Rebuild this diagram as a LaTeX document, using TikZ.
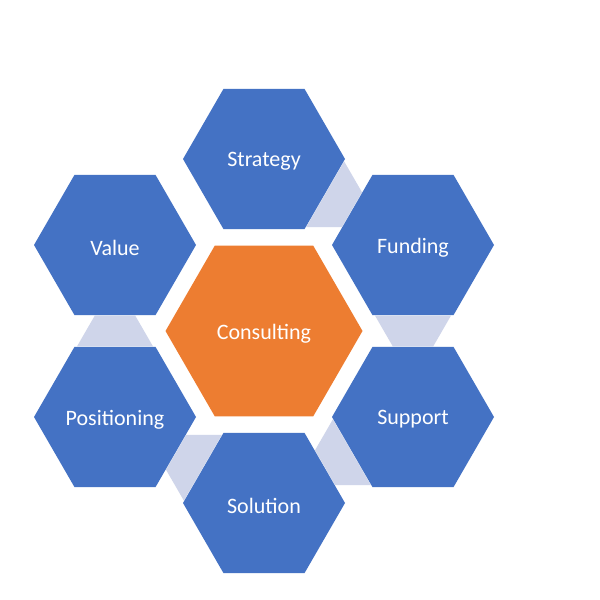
\documentclass[tikz,border=0pt]{standalone}
\usepackage{fontspec}
\setmainfont{Carlito}
\usetikzlibrary{shapes.geometric,calc}
\definecolor{hexblue}{HTML}{4472C4}
\definecolor{hexorange}{HTML}{ED7D31}
\definecolor{lav}{HTML}{CFD5EA}
\newcommand{\hexlabel}[1]{\raisebox{-2.5pt}[\height][\depth]{#1}}
\tikzset{
  hexbase/.style={regular polygon, regular polygon sides=6, inner sep=0pt, outer sep=0pt,
    text=white, font=\fontsize{22}{26}\selectfont},
  outerhex/.style={hexbase, fill=hexblue, minimum size=162pt},
  centerhex/.style={hexbase, fill=hexorange, minimum size=197pt},
  linkshape/.style={fill=lav}
}
\begin{document}
\begin{tikzpicture}[x=1pt,y=1pt]
\useasboundingbox[fill=white] (0,0) rectangle (600,600);
% connectors first (behind)
\coordinate (cS) at (264,441);
\coordinate (cF) at (413,355);
\coordinate (cP) at (413,183);
\coordinate (cL) at (264,97);
\coordinate (cO) at (115,183);
\coordinate (cV) at (115,355);
\foreach \a/\b/\d in {cS/cF/-30, cF/cP/-90, cP/cL/-150, cL/cO/150, cO/cV/90}{
  \path[linkshape]
    ($(\a)+(\d:70.6pt)+(\d+90:38pt)$) --
    ($(\a)+(\d:70.6pt)+(\d-90:38pt)$) --
    ($(\b)+(\d+180:70.6pt)+(\d-90:20.2pt)$) --
    ($(\b)+(\d+180:70.6pt)+(\d+90:20.2pt)$) -- cycle;
}
\node[centerhex] (consulting) at (264,269) {\hexlabel{Consulting}};
\node[outerhex] (strategy) at (cS) {\hexlabel{Strategy}};
\node[outerhex] (funding) at (cF) {\hexlabel{Funding}};
\node[outerhex] (support) at (cP) {\hexlabel{Support}};
\node[outerhex] (solution) at (cL) {\hexlabel{Solution}};
\node[outerhex] (positioning) at (cO) {\hexlabel{Positioning}};
\node[outerhex] (value) at (cV) {\hexlabel{Value}};
\end{tikzpicture}
\end{document}
